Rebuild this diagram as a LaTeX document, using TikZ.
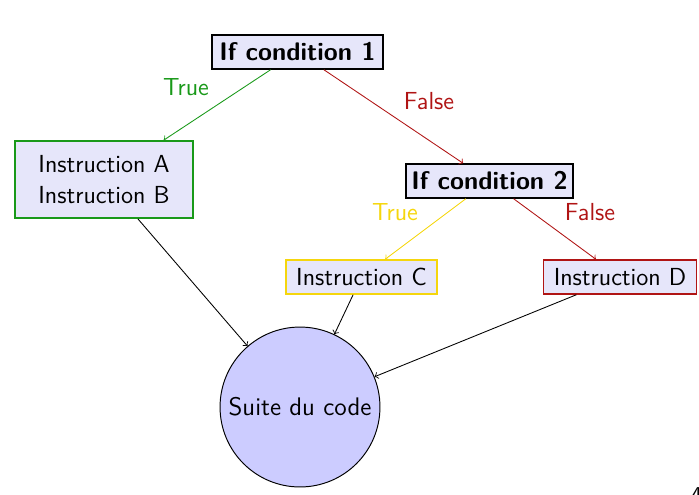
\documentclass[tikz,border=0pt]{standalone}
\usepackage{fontspec}
\definecolor{boxfill}{rgb}{0.902,0.902,0.98}
\definecolor{circfill}{rgb}{0.8,0.8,1}
\definecolor{mygreen}{rgb}{0.1,0.6,0.1}
\definecolor{myred}{rgb}{0.69,0.08,0.08}
\definecolor{myyellow}{rgb}{0.96,0.84,0.05}
\tikzset{
  px/.style={x=0.519pt,y=-0.519pt},
  box/.style={draw=black,thick,fill=boxfill,inner sep=0pt,align=center,
    font=\sffamily\fontsize{12.8}{16}\selectfont},
  cond/.style={box,font=\sffamily\bfseries\fontsize{13.2}{16}\selectfont},
  lab/.style={font=\sffamily\fontsize{12.8}{16}\selectfont,inner sep=0pt},
  conn/.style={->,line width=0.45pt},
}
\begin{document}
\begin{tikzpicture}[px]
\useasboundingbox (0,0) rectangle (699,494);
\node[cond,minimum width=88.7pt,minimum height=17.6pt] (c1) at (297.5,52) {If condition 1};
\node[box,draw=mygreen,minimum width=92.4pt,minimum height=40pt] (a) at (104,179.5) {Instruction A\\Instruction B};
\node[cond,minimum width=86.7pt,minimum height=17.6pt] (c2) at (489.5,181) {If condition 2};
\node[box,draw=myyellow,minimum width=78.4pt,minimum height=17.6pt] (c) at (361.5,277) {Instruction C};
\node[box,draw=myred,minimum width=79.4pt,minimum height=17.6pt] (d) at (620,277) {Instruction D};
\node[box,circle,fill=circfill,minimum size=83pt,line width=0.5pt,
  font=\sffamily\fontsize{13.2}{16}\selectfont] (s) at (300,407) {Suite du code};

\draw[conn,draw=mygreen] (c1) -- (a);
\draw[conn,draw=myred] (c1) -- (c2);
\draw[conn,draw=myyellow] (c2) -- (c);
\draw[conn,draw=myred] (c2) -- (d);
\draw[conn] (a) -- (s);
\draw[conn] (c) -- (s);
\draw[conn] (d) -- (s);

\node[lab,text=mygreen] (t1) at (186,87) {True};
\node[lab,text=myred] (f1) at (429,101) {False};
\node[lab,text=myyellow] (t2) at (395,212) {True};
\node[lab,text=myred] (f2) at (590,212) {False};
\node[font=\sffamily\fontsize{11}{13}\selectfont,inner sep=0pt,anchor=north west] (pg) at (691,487) {4};
\end{tikzpicture}
\end{document}
